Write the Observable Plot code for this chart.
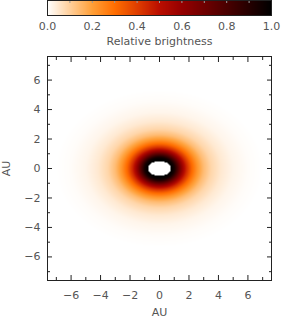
<!DOCTYPE html>
<html>
<head>
<meta charset="utf-8">
<script src="https://cdn.jsdelivr.net/npm/d3@7"></script>
<script src="https://cdn.jsdelivr.net/npm/@observablehq/plot@0.6"></script>
<style>
  html, body { margin: 0; padding: 0; background: #fff; }
  #chart svg { display: block; }
</style>
</head>
<body>
<div id="chart"></div>
<script>
// --- data ---
// Radial brightness profile of the disk (elliptical radius in AU along x, relative brightness)
const profileRadius = [0, 0.8, 1.0, 1.2, 1.5, 1.8, 2.2, 2.6, 3.0, 3.5, 4.2, 5.0, 6.0, 7.0];
const profileBrightness = [1.0, 1.0, 0.95, 0.82, 0.62, 0.46, 0.31, 0.21, 0.14, 0.085, 0.045, 0.02, 0.006, 0];
const diskAxisRatio = 0.76;          // projected minor/major axis of the disk
const holeSemiAxes = [0.78, 0.5];    // central unlit region (AU)
const majorTicks = [-6, -4, -2, 0, 2, 4, 6];
const minorTicks = [-7, -5, -3, -1, 1, 3, 5, 7];
const colorbarTicks = [0, 0.2, 0.4, 0.6, 0.8, 1.0];
const colorbarMinor = [0.1, 0.2, 0.3, 0.4, 0.5, 0.6, 0.7, 0.8, 0.9];
const axisDomain = [-7.6, 7.6];

// reversed IDL "red temperature" colour table
const colorStops = ["#ffffff", "#ffcf9b", "#ff9f37", "#ff6e00", "#df3e00", "#ba0e00",
                    "#950000", "#6f0000", "#4a0000", "#250000", "#000000"];
const interp = d3.piecewise(d3.interpolateRgb, colorStops);
const colorScale = {type: "linear", domain: [0, 1], interpolate: t => interp(t)};

const brightnessAt = d3.scaleLinear().domain(profileRadius).range(profileBrightness).clamp(true);
function brightness(x, y) {
  const hx = x / holeSemiAxes[0], hy = y / holeSemiAxes[1];
  if (hx * hx + hy * hy < 1) return NaN;
  const r = Math.hypot(x, y / diskAxisRatio);
  return brightnessAt(r);
}

const textColor = "#555";
const font = {fontFamily: "'DejaVu Sans', sans-serif", fontSize: "11px", background: "#fff", color: "#222"};

// --- colour bar ---
const bar = Plot.plot({
  width: 287, height: 50,
  marginLeft: 47, marginRight: 16, marginTop: 0, marginBottom: 35,
  style: font,
  x: {domain: [0, 1]},
  y: {domain: [0, 1], axis: null},
  color: colorScale,
  marks: [
    Plot.raster({fill: (x, y) => x, x1: 0, x2: 1, y1: 0, y2: 1, pixelSize: 1}),
    Plot.axisX({anchor: "top", ticks: colorbarMinor, tickSize: -2, tickFormat: () => "", stroke: "#999"}),
    Plot.axisX({anchor: "bottom", ticks: colorbarTicks, tickSize: 0, tickPadding: 7,
                tickFormat: d3.format(".1f"), fill: textColor,
                label: "Relative brightness", labelAnchor: "center", labelArrow: "none", labelOffset: 29}),
    Plot.frame({stroke: "#222"})
  ]
});

// --- image ---
const main = Plot.plot({
  width: 287, height: 268,
  marginLeft: 47, marginRight: 16, marginTop: 6, marginBottom: 38,
  style: font,
  x: {domain: axisDomain},
  y: {domain: axisDomain},
  color: colorScale,
  marks: [
    Plot.raster({fill: brightness, x1: axisDomain[0], x2: axisDomain[1], y1: axisDomain[0], y2: axisDomain[1], pixelSize: 1}),
    Plot.axisX({anchor: "bottom", ticks: majorTicks, tickSize: -5, tickFormat: () => "", label: null}),
    Plot.axisX({anchor: "bottom", ticks: minorTicks, tickSize: -3, tickFormat: () => "", label: null}),
    Plot.axisX({anchor: "top", ticks: majorTicks, tickSize: -5, tickFormat: () => "", label: null}),
    Plot.axisX({anchor: "top", ticks: minorTicks, tickSize: -3, tickFormat: () => "", label: null}),
    Plot.axisY({anchor: "left", ticks: majorTicks, tickSize: -5, tickFormat: () => "", label: null}),
    Plot.axisY({anchor: "left", ticks: minorTicks, tickSize: -3, tickFormat: () => "", label: null}),
    Plot.axisY({anchor: "right", ticks: majorTicks, tickSize: -5, tickFormat: () => "", label: null}),
    Plot.axisY({anchor: "right", ticks: minorTicks, tickSize: -3, tickFormat: () => "", label: null}),
    Plot.axisX({anchor: "bottom", ticks: majorTicks, tickSize: 0, tickPadding: 11, fill: textColor,
                label: "AU", labelAnchor: "center", labelArrow: "none", labelOffset: 35}),
    Plot.axisY({anchor: "left", ticks: majorTicks, tickSize: 0, tickPadding: 7, fill: textColor,
                label: "AU", labelAnchor: "center", labelArrow: "none", labelOffset: 45}),
    Plot.frame({stroke: "#222"})
  ]
});

document.getElementById("chart").append(bar, main);
</script>
</body>
</html>
